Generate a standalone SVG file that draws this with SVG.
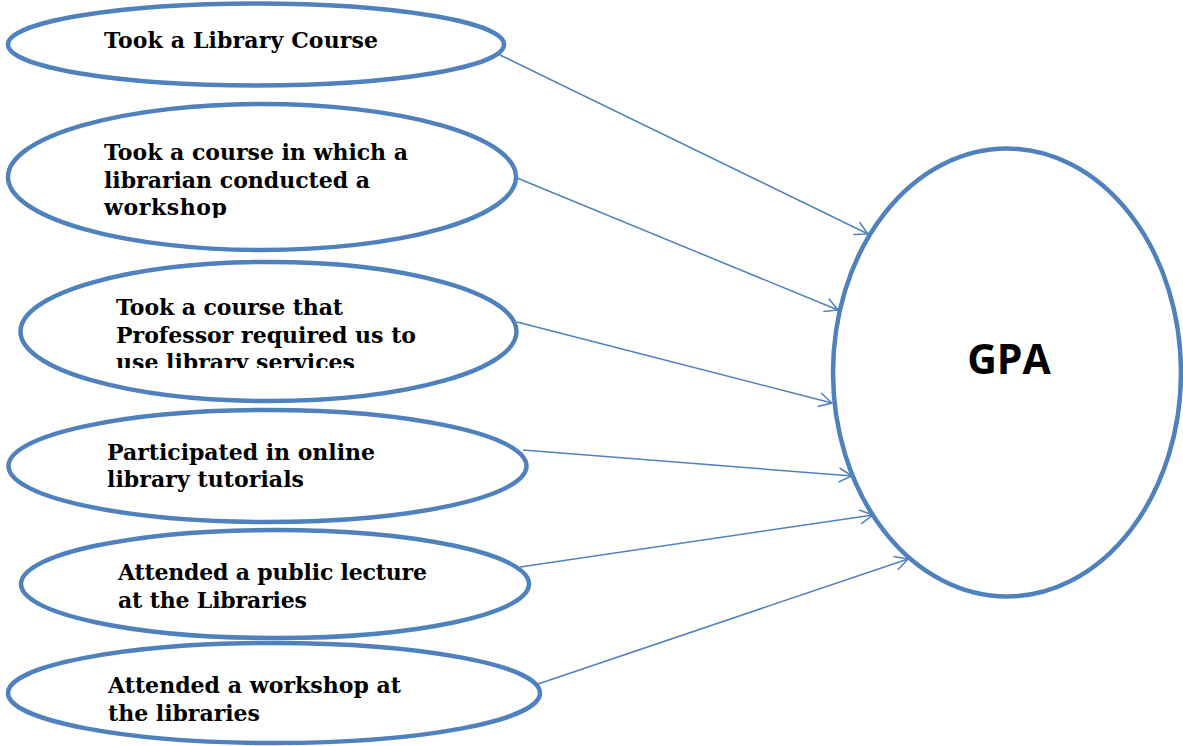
<svg xmlns="http://www.w3.org/2000/svg" width="1183" height="746" viewBox="0 0 1183 746">
<style>
.n{fill:#fff;stroke:#4F81BD;stroke-width:4.5}
.t{font-family:"DejaVu Serif","Liberation Serif",serif;font-weight:bold;font-size:22px;fill:#000}
.g{font-family:"Open Sans","Liberation Sans",sans-serif;font-weight:bold;font-size:41px;fill:#000}
.c{stroke:#4F81BD;stroke-width:1.5;fill:none;marker-end:url(#ah)}
</style>
<defs>
<marker id="ah" markerWidth="16" markerHeight="16" refX="14" refY="8" orient="auto" markerUnits="userSpaceOnUse">
<path d="M1,1 L14,8 L1,15" fill="none" stroke="#4F81BD" stroke-width="1.5"/>
</marker>
<clipPath id="c2"><rect x="0" y="100" width="600" height="118"/></clipPath>
<clipPath id="c3"><rect x="0" y="260" width="600" height="108"/></clipPath>
<clipPath id="c6"><rect x="0" y="640" width="600" height="82"/></clipPath>
</defs>
<g id="connectors">
<line class="c" x1="500" y1="55" x2="868" y2="234"/>
<line class="c" x1="517" y1="178" x2="838" y2="310"/>
<line class="c" x1="517" y1="322" x2="832" y2="403"/>
<line class="c" x1="523" y1="450" x2="852" y2="476"/>
<line class="c" x1="520" y1="567" x2="873" y2="515"/>
<line class="c" x1="538" y1="684" x2="908" y2="559"/>
</g>
<g id="n1"><ellipse class="n" cx="256" cy="44.5" rx="248" ry="41"/>
<text class="t" x="104" y="48" textLength="274">Took a Library Course</text></g>
<g id="n2"><ellipse class="n" cx="262" cy="177" rx="254" ry="73"/>
<g clip-path="url(#c2)"><text class="t" x="104" y="160" textLength="304">Took a course in which a</text>
<text class="t" x="104" y="188" textLength="266">librarian conducted a</text>
<text class="t" x="104" y="215" textLength="123">workshop</text></g></g>
<g id="n3"><ellipse class="n" cx="268.5" cy="331.5" rx="248" ry="69.5"/>
<g clip-path="url(#c3)"><text class="t" x="116" y="315" textLength="227">Took a course that</text>
<text class="t" x="116" y="343" textLength="300">Professor required us to</text>
<text class="t" x="116" y="370" textLength="239">use library services</text></g></g>
<g id="n4"><ellipse class="n" cx="267.5" cy="466" rx="259" ry="56"/>
<text class="t" x="107" y="460" textLength="268">Participated in online</text>
<text class="t" x="107" y="487" textLength="197">library tutorials</text></g>
<g id="n5"><ellipse class="n" cx="275" cy="584" rx="254" ry="54"/>
<text class="t" x="118" y="580" textLength="309">Attended a public lecture</text>
<text class="t" x="118" y="608" textLength="189">at the Libraries</text></g>
<g id="n6"><ellipse class="n" cx="274" cy="693" rx="266" ry="50"/>
<g clip-path="url(#c6)"><text class="t" x="108" y="693" textLength="293">Attended a workshop at</text>
<text class="t" x="108" y="721" textLength="152">the libraries</text></g></g>
<g id="gpa"><ellipse class="n" cx="1007" cy="372.5" rx="174" ry="224"/>
<text class="g" x="1009" y="374" text-anchor="middle">GPA</text></g>
</svg>
